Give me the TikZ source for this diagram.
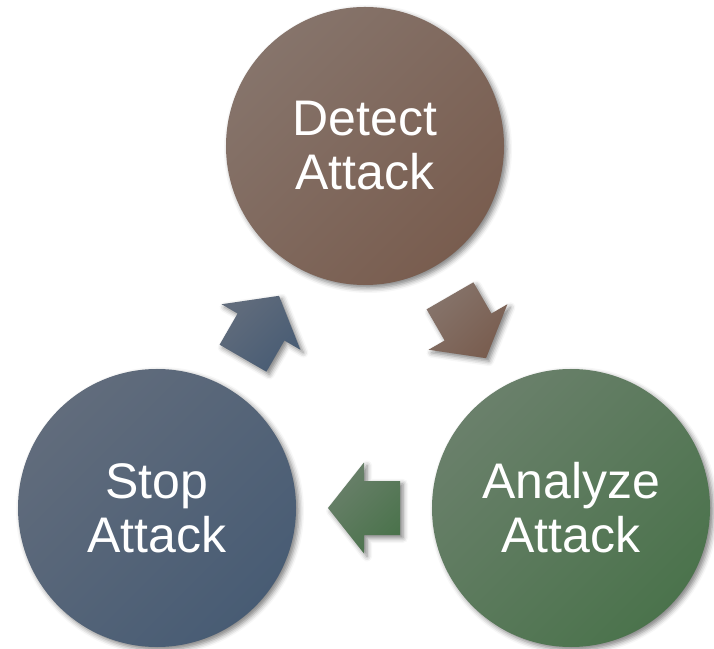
\documentclass[tikz,border=0pt]{standalone}
\usepackage{fontspec}
\setmainfont{Liberation Sans}
\usetikzlibrary{calc,shadows.blur}
\definecolor{detA}{HTML}{86746B}
\definecolor{detB}{HTML}{795D4F}
\definecolor{anaA}{HTML}{6A806B}
\definecolor{anaB}{HTML}{4B734C}
\definecolor{stoA}{HTML}{616C7C}
\definecolor{stoB}{HTML}{485C74}
\tikzset{
  softshadow/.style={blur shadow={shadow xshift=3pt, shadow yshift=-3pt, shadow blur radius=5pt, shadow opacity=50}},
  stage/.style={circle, minimum size=278pt, inner sep=0pt, text=white, align=center,
    font=\fontsize{50}{54}\selectfont, softshadow},
  cycarrow/.style={softshadow},
  detfill/.style={top color=detA, middle color=detA!80!detB, bottom color=detB, shading angle=45},
  anafill/.style={top color=anaA, middle color=anaA!80!anaB, bottom color=anaB, shading angle=45},
  stofill/.style={top color=stoA, middle color=stoA!80!stoB, bottom color=stoB, shading angle=45},
}
\begin{document}
\begin{tikzpicture}[x=1pt,y=1pt]
\useasboundingbox (0,0) rectangle (714,648);
\node[stage, detfill] (detect) at (365,502) {Detect\\Attack};
\node[stage, anafill] (analyze) at (571,140) {Analyze\\Attack};
\node[stage, stofill] (stop) at (157,140) {Stop\\Attack};
\coordinate (a1) at ($(detect)!0.5!(analyze)$);
\coordinate (a2) at ($(analyze)!0.5!(stop)$);
\coordinate (a3) at ($(stop)!0.5!(detect)$);
\begin{scope}[shift={(a1)}, rotate=-60]
  \path[cycarrow, detfill]
    (-36,27) -- (0,27) -- (0,45.5) -- (36,0) -- (0,-45.5) -- (0,-27) -- (-36,-27) -- cycle;
\end{scope}
\begin{scope}[shift={(a2)}, rotate=180]
  \path[cycarrow, anafill]
    (-36,27) -- (0,27) -- (0,45.5) -- (36,0) -- (0,-45.5) -- (0,-27) -- (-36,-27) -- cycle;
\end{scope}
\begin{scope}[shift={(a3)}, rotate=60]
  \path[cycarrow, stofill]
    (-36,27) -- (0,27) -- (0,45.5) -- (36,0) -- (0,-45.5) -- (0,-27) -- (-36,-27) -- cycle;
\end{scope}
\end{tikzpicture}
\end{document}
